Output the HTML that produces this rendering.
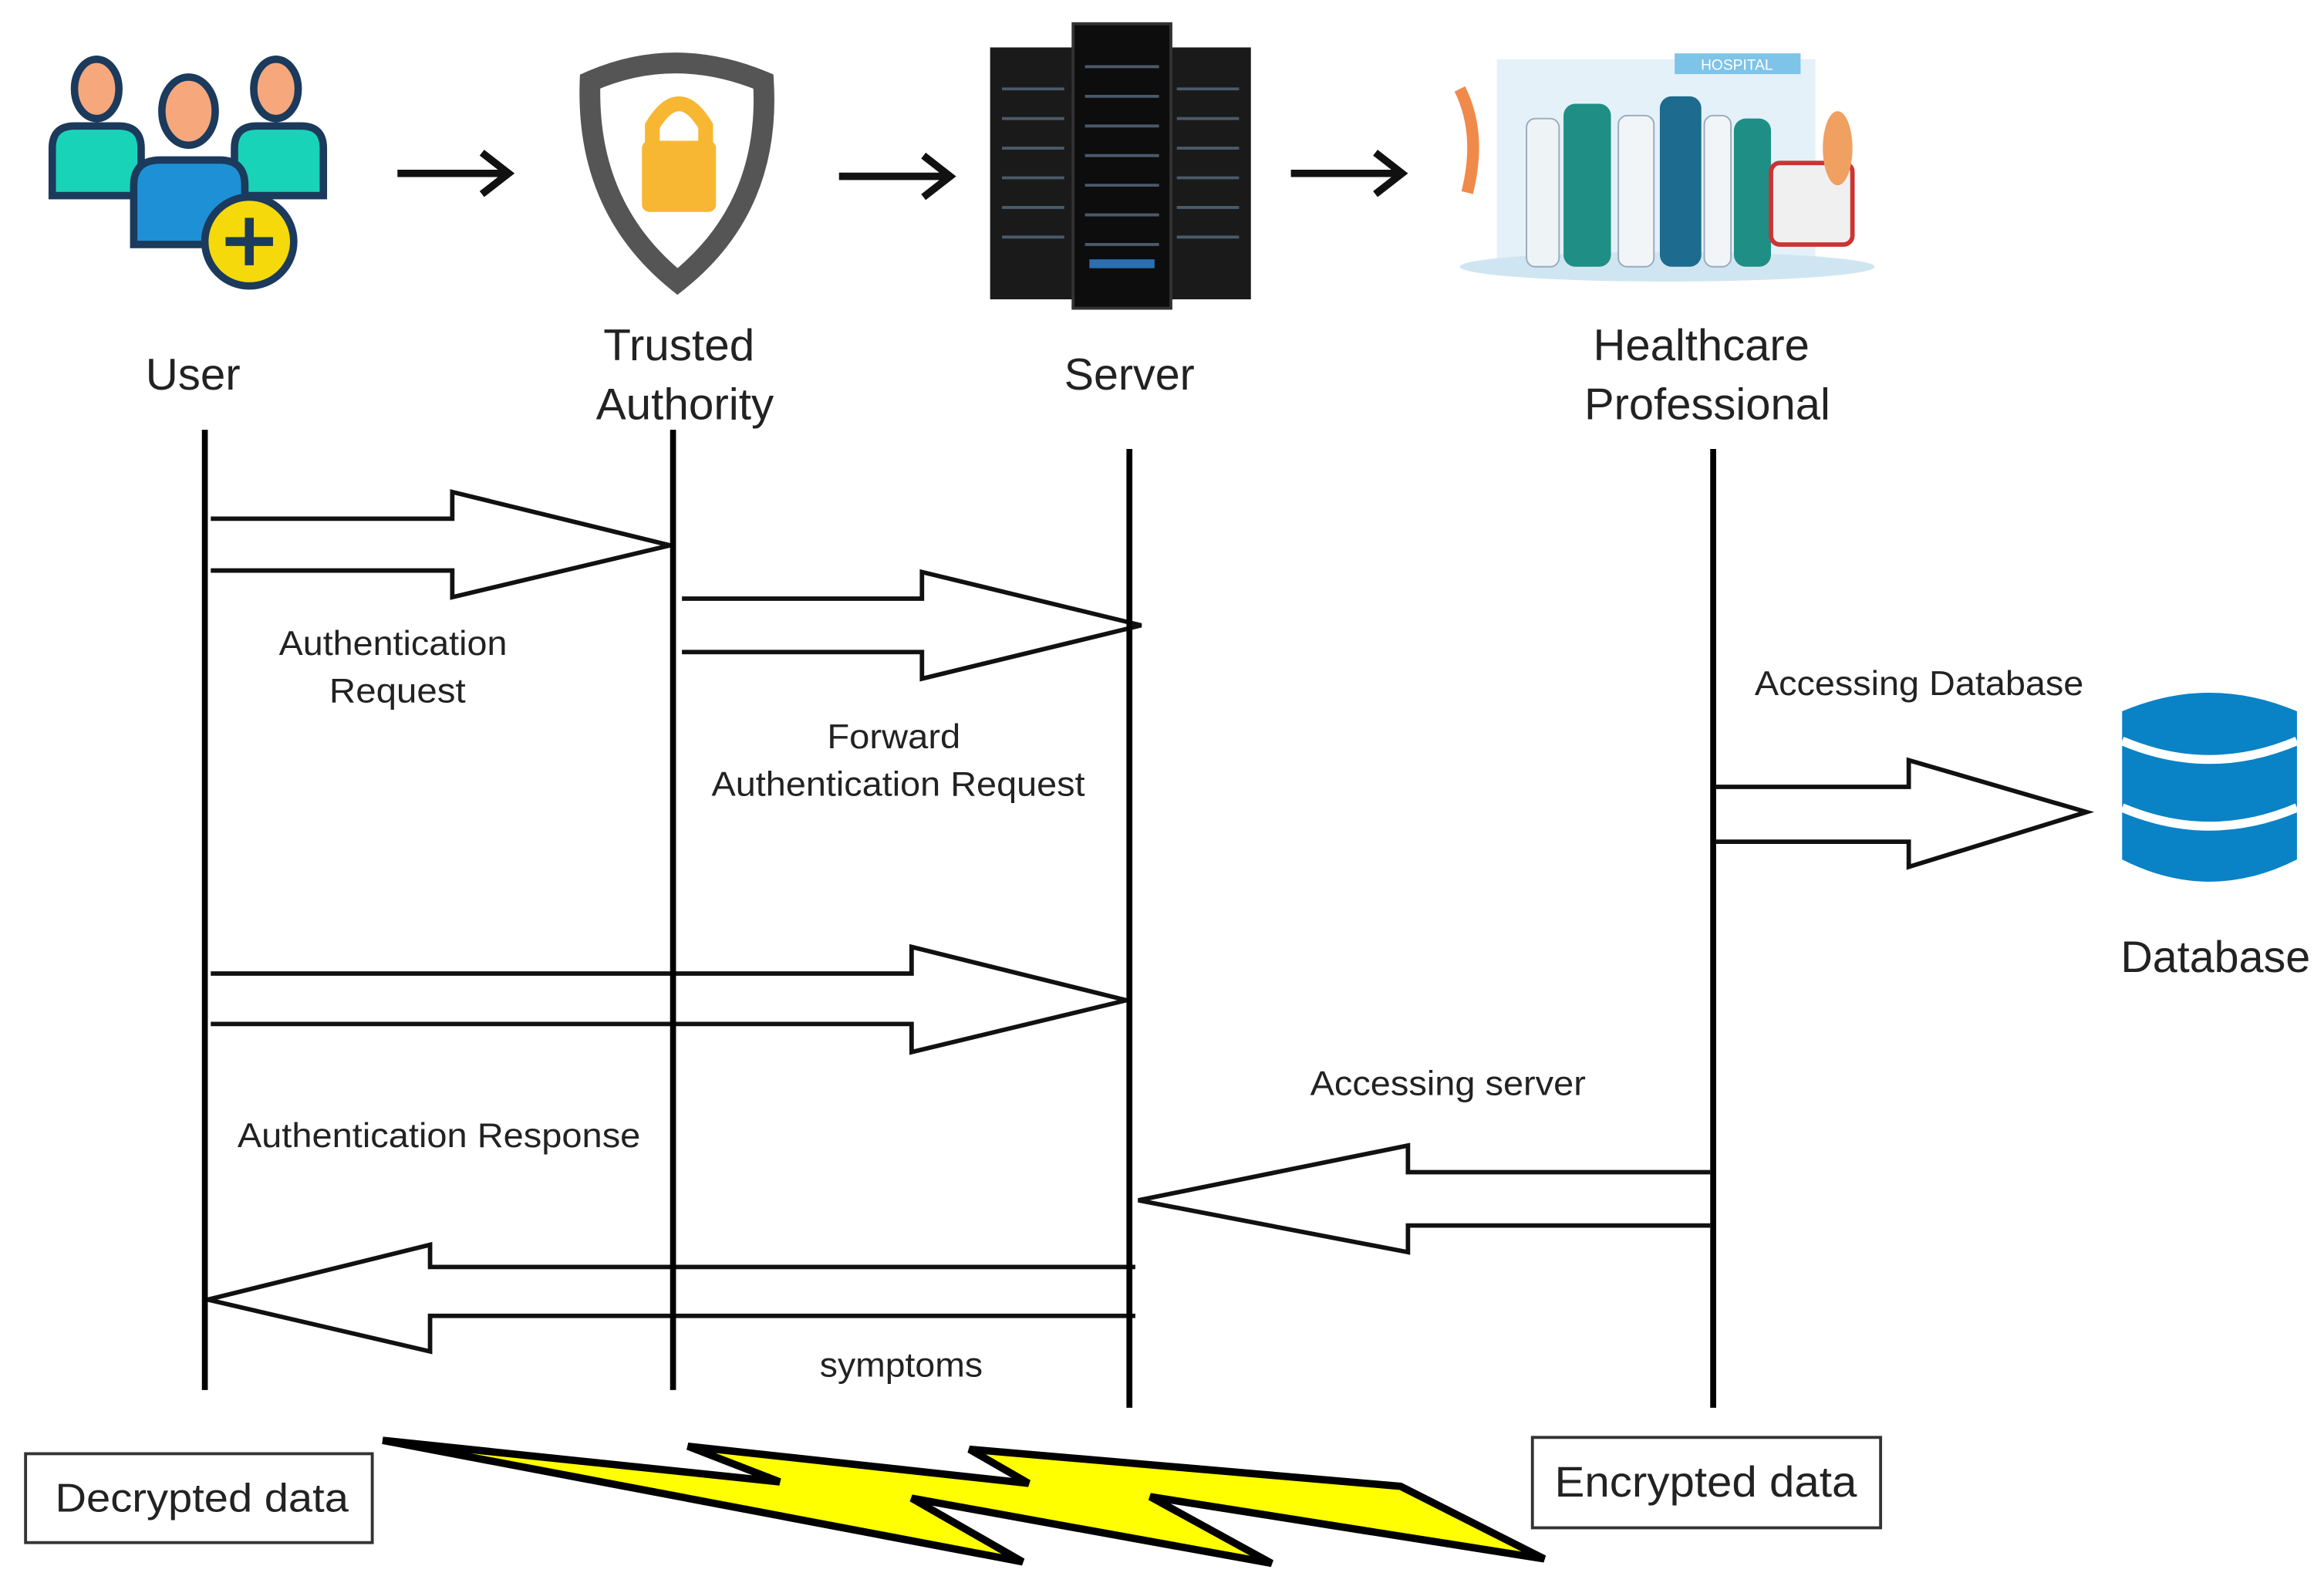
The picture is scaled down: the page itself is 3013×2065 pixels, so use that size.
<!DOCTYPE html>
<html><head><meta charset="utf-8"><style>
html,body{margin:0;padding:0;background:#fff}
svg{display:block}
text{font-family:"Liberation Sans",sans-serif;fill:#222}
</style></head><body>
<svg width="3013" height="2065" viewBox="0 0 1568 1075" xmlns="http://www.w3.org/2000/svg">
<rect width="1568" height="1075" fill="#fff"/>
<!-- User icon -->
<g stroke="#1b3a5c" stroke-width="5">
<path d="M35,132 V100 Q35,85 50,85 H80 Q95,85 95,100 V132 Z" fill="#19d3b8"/>
<ellipse cx="65" cy="60" rx="15" ry="20" fill="#f6a77c"/>
<path d="M158,132 V100 Q158,85 173,85 H203 Q218,85 218,100 V132 Z" fill="#19d3b8"/>
<ellipse cx="186" cy="60" rx="15" ry="20" fill="#f6a77c"/>
<path d="M90,165 V125 Q90,108 108,108 H148 Q165,108 165,125 V165 Z" fill="#1e90d6"/>
<ellipse cx="127" cy="75" rx="18" ry="23" fill="#f6a77c"/>
<circle cx="168" cy="163" r="30" fill="#f5d90a"/>
<path d="M168,147 V179 M152,163 H184" stroke-width="6"/>
</g>
<!-- Shield -->
<path d="M398,55 Q455,30 515,55 Q520,140 457,190 Q395,140 398,55 Z" fill="#fff" stroke="#555" stroke-width="14"/>
<rect x="433" y="95" width="50" height="48" rx="5" fill="#f7b733"/>
<path d="M440,97 V85 Q458,55 476,85 V97" fill="none" stroke="#f7b733" stroke-width="10"/>
<!-- Server -->
<rect x="668" y="32" width="58" height="170" fill="#1a1a1a"/>
<rect x="786" y="32" width="58" height="170" fill="#1a1a1a"/>
<rect x="724" y="16" width="66" height="192" fill="#0d0d0d" stroke="#333" stroke-width="2"/>
<g stroke="#4a5a6a" stroke-width="2">
<path d="M676,60H718M676,80H718M676,100H718M676,120H718M676,140H718M676,160H718M794,60H836M794,80H836M794,100H836M794,120H836M794,140H836M794,160H836M732,45H782M732,65H782M732,85H782M732,105H782M732,125H782M732,145H782M732,165H782"/>
</g>
<rect x="735" y="175" width="44" height="6" fill="#2a6fb0"/>
<!-- Hospital -->
<rect x="1010" y="40" width="215" height="140" fill="#e4f1f8"/>
<rect x="1130" y="36" width="85" height="14" fill="#7ec3e8"/>
<text x="1172" y="47" font-size="10" text-anchor="middle" style="fill:#fff">HOSPITAL</text>
<ellipse cx="1125" cy="180" rx="140" ry="10" fill="#cfe6f2"/>
<g fill="#1f8f86">
<rect x="1055" y="70" width="32" height="110" rx="8"/>
<rect x="1120" y="65" width="28" height="115" rx="8" fill="#1d6b8f"/>
<rect x="1170" y="80" width="25" height="100" rx="8"/>
<rect x="1030" y="80" width="22" height="100" rx="6" fill="#eef3f6" stroke="#9ab" stroke-width="1"/>
<rect x="1092" y="78" width="24" height="102" rx="6" fill="#f2f5f7" stroke="#9ab" stroke-width="1"/>
<rect x="1150" y="78" width="18" height="102" rx="6" fill="#f2f5f7" stroke="#9ab" stroke-width="1"/>
</g>
<rect x="1195" y="110" width="55" height="55" rx="6" fill="#f0f0f0" stroke="#c33" stroke-width="3"/>
<path d="M985,60 Q1000,90 990,130" stroke="#f08a4b" stroke-width="8" fill="none"/>
<ellipse cx="1240" cy="100" rx="10" ry="25" fill="#f0a060"/>
<!-- Top arrows -->
<g stroke="#111" stroke-width="5" fill="none">
<path d="M268,117H340M325,103L343,117L325,131"/>
<path d="M566,119H638M623,105L641,119L623,133"/>
<path d="M871,117H943M928,103L946,117L928,131"/>
</g>
<!-- Headers -->
<g font-size="30" text-anchor="middle">
<text x="130" y="263" textLength="64" lengthAdjust="spacingAndGlyphs">User</text>
<text x="458" y="243" textLength="102" lengthAdjust="spacingAndGlyphs">Trusted</text>
<text x="462" y="283" textLength="120" lengthAdjust="spacingAndGlyphs">Authority</text>
<text x="762" y="263" textLength="88" lengthAdjust="spacingAndGlyphs">Server</text>
<text x="1148" y="243" textLength="146" lengthAdjust="spacingAndGlyphs">Healthcare</text>
<text x="1152" y="283" textLength="166" lengthAdjust="spacingAndGlyphs">Professional</text>
</g>
<!-- Block arrows -->
<g fill="#fff" stroke="#111" stroke-width="3" stroke-linejoin="miter">
<path d="M142,350H305V332L452,368L305,403V385H142"/>
<path d="M460,404H622V386L770,422L622,458V440H460"/>
<path d="M1158,531H1288V513L1408,548L1288,585V568H1158"/>
<path d="M142,657H615V639L760,675L615,710V691H142"/>
<path d="M1154,791H950V773L768,810L950,845V827H1154"/>
<path d="M766,855H290V840L140,877L290,912V888H766"/>
</g>
<!-- Lifelines -->
<g stroke="#000" stroke-width="4">
<path d="M138,290V938M454,290V938M762,303V950M1156,303V950"/>
</g>
<!-- Labels -->
<g font-size="23" text-anchor="middle">
<text x="265" y="442" textLength="154" lengthAdjust="spacingAndGlyphs">Authentication</text>
<text x="268" y="474" textLength="92" lengthAdjust="spacingAndGlyphs">Request</text>
<text x="603" y="505" textLength="90" lengthAdjust="spacingAndGlyphs">Forward</text>
<text x="606" y="537" textLength="252" lengthAdjust="spacingAndGlyphs">Authentication Request</text>
<text x="1295" y="469" textLength="222" lengthAdjust="spacingAndGlyphs">Accessing Database</text>
<text x="977" y="739" textLength="186" lengthAdjust="spacingAndGlyphs">Accessing server</text>
<text x="296" y="774" textLength="272" lengthAdjust="spacingAndGlyphs">Authentication Response</text>
<text x="608" y="929" textLength="110" lengthAdjust="spacingAndGlyphs">symptoms</text>
</g>
<text x="1495" y="656" font-size="30" text-anchor="middle" textLength="128" lengthAdjust="spacingAndGlyphs">Database</text>
<!-- Database -->
<path d="M1432,480 Q1491,455 1550,480 V580 Q1491,610 1432,580 Z" fill="#0a82c6"/>
<g fill="none" stroke="#fff" stroke-width="6">
<path d="M1432,500 Q1491,525 1550,500"/>
<path d="M1432,545 Q1491,570 1550,545"/>
</g>
<!-- Boxes -->
<rect x="17" y="981" width="234" height="60" fill="#fff" stroke="#333" stroke-width="2"/>
<text x="136" y="1020" font-size="27" text-anchor="middle" textLength="198" lengthAdjust="spacingAndGlyphs">Decrypted data</text>
<rect x="1034" y="970" width="235" height="61" fill="#fff" stroke="#333" stroke-width="2"/>
<text x="1151" y="1010" font-size="29" text-anchor="middle" textLength="204" lengthAdjust="spacingAndGlyphs">Encrypted data</text>
<!-- Lightning -->
<polygon points="258,972 526,1000 464,976 694,1001 654,978 945,1003 1042,1052 776,1010 858,1055 615,1011 690,1054" fill="#ffff00" stroke="#000" stroke-width="5" stroke-linejoin="miter"/>
</svg>
</body></html>
